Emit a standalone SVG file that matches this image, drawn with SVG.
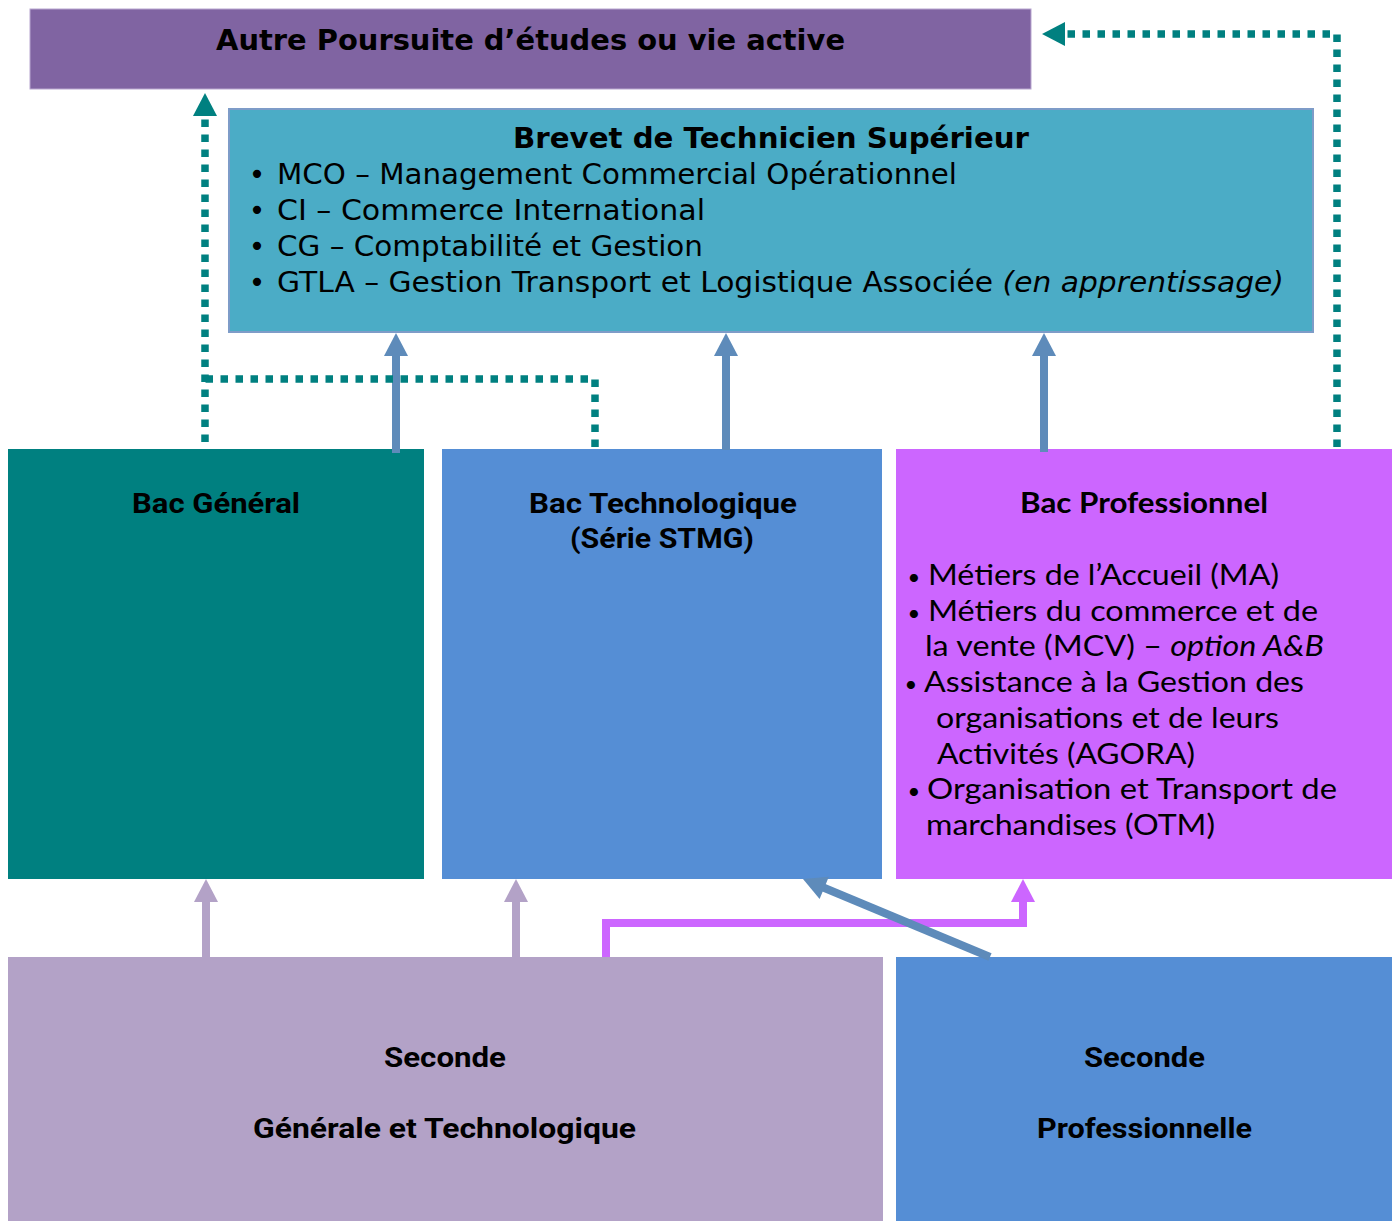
<svg xmlns="http://www.w3.org/2000/svg" width="1395" height="1221" viewBox="0 0 1395 1221">
<style>
.vb{font-family:"DejaVu Sans",Verdana,sans-serif;font-weight:bold;font-size:28px;fill:#000}
.v{font-family:"DejaVu Sans",Verdana,sans-serif;font-size:28px;fill:#000}
.c{font-family:Roboto,"Liberation Sans",sans-serif;font-weight:bold;font-size:28px;fill:#000}
.g{font-family:Lato,"Open Sans",sans-serif;font-size:28px;fill:#000}
.gb{font-family:Lato,"Open Sans",sans-serif;font-weight:bold;font-size:28px;fill:#000}
.gbul{font-family:Lato,"Open Sans",sans-serif;font-size:22px;fill:#000}
.it{font-style:italic}
.solid{fill:none;stroke-width:8}
.dot{fill:none;stroke:#008080;stroke-width:7.5;stroke-dasharray:7.5 7.5}
</style>
<defs>
<marker id="aBlue" markerUnits="userSpaceOnUse" markerWidth="24" markerHeight="24" viewBox="0 -12 24 24" refX="1" refY="0" orient="auto" overflow="visible"><path d="M0,-12 L23,0 L0,12 z" fill="#5E8BBA"/></marker>
<marker id="aTeal" markerUnits="userSpaceOnUse" markerWidth="24" markerHeight="24" viewBox="0 -12 24 24" refX="1" refY="0" orient="auto" overflow="visible"><path d="M0,-12 L23,0 L0,12 z" fill="#008080"/></marker>
<marker id="aLilac" markerUnits="userSpaceOnUse" markerWidth="24" markerHeight="24" viewBox="0 -12 24 24" refX="1" refY="0" orient="auto" overflow="visible"><path d="M0,-12 L23,0 L0,12 z" fill="#B3A2C7"/></marker>
<marker id="aPink" markerUnits="userSpaceOnUse" markerWidth="24" markerHeight="24" viewBox="0 -12 24 24" refX="1" refY="0" orient="auto" overflow="visible"><path d="M0,-12 L23,0 L0,12 z" fill="#CC66FF"/></marker>
</defs>
<rect width="1395" height="1221" fill="#fff"/>

<g id="autre">
<rect x="30" y="9" width="1001" height="80" fill="#8064A2" stroke="#B8A6CF" stroke-width="1"/>
<text class="vb" x="216" y="50" textLength="629" lengthAdjust="spacingAndGlyphs">Autre Poursuite d’études ou vie active</text>
</g>

<g id="bts">
<rect x="229" y="109" width="1084" height="223" fill="#4BACC6" stroke="#7E9CC8" stroke-width="2"/>
<text class="vb" x="513" y="148" textLength="516" lengthAdjust="spacingAndGlyphs">Brevet de Technicien Supérieur</text>
<text class="v" x="257" y="184" text-anchor="middle">•</text>
<text class="v" x="277" y="184" textLength="680" lengthAdjust="spacingAndGlyphs">MCO – Management Commercial Opérationnel</text>
<text class="v" x="257" y="220" text-anchor="middle">•</text>
<text class="v" x="277" y="220" textLength="428" lengthAdjust="spacingAndGlyphs">CI – Commerce International</text>
<text class="v" x="257" y="256" text-anchor="middle">•</text>
<text class="v" x="277" y="256" textLength="426" lengthAdjust="spacingAndGlyphs">CG – Comptabilité et Gestion</text>
<text class="v" x="257" y="292" text-anchor="middle">•</text>
<text class="v" x="277" y="292" textLength="1007" lengthAdjust="spacingAndGlyphs">GTLA – Gestion Transport et Logistique Associée <tspan class="it">(en apprentissage)</tspan></text>
</g>

<g id="bac-general">
<rect x="8" y="449" width="416" height="430" fill="#008080"/>
<text class="c" x="132" y="513" textLength="168" lengthAdjust="spacingAndGlyphs">Bac Général</text>
</g>

<g id="bac-techno">
<rect x="442" y="449" width="440" height="430" fill="#558ED5"/>
<text class="c" x="529" y="513" textLength="268" lengthAdjust="spacingAndGlyphs">Bac Technologique</text>
<text class="c" x="570" y="548" textLength="184" lengthAdjust="spacingAndGlyphs">(Série STMG)</text>
</g>

<g id="bac-pro">
<rect x="896" y="449" width="496" height="430" fill="#CC66FF"/>
<text class="gb" x="1020" y="513" textLength="248" lengthAdjust="spacingAndGlyphs">Bac Professionnel</text>
<text class="gbul" x="914" y="585" text-anchor="middle">•</text>
<text class="g" x="928" y="585" textLength="351" lengthAdjust="spacingAndGlyphs">Métiers de l’Accueil (MA)</text>
<text class="gbul" x="914" y="621" text-anchor="middle">•</text>
<text class="g" x="928" y="621" textLength="390" lengthAdjust="spacingAndGlyphs">Métiers du commerce et de</text>
<text class="g" x="925" y="656" textLength="399" lengthAdjust="spacingAndGlyphs">la vente (MCV) – <tspan class="it">option A&amp;B</tspan></text>
<text class="gbul" x="911" y="692" text-anchor="middle">•</text>
<text class="g" x="924" y="692" textLength="380" lengthAdjust="spacingAndGlyphs">Assistance à la Gestion des</text>
<text class="g" x="936" y="728" textLength="343" lengthAdjust="spacingAndGlyphs">organisations et de leurs</text>
<text class="g" x="937" y="764" textLength="258" lengthAdjust="spacingAndGlyphs">Activités (AGORA)</text>
<text class="gbul" x="914" y="799" text-anchor="middle">•</text>
<text class="g" x="927" y="799" textLength="410" lengthAdjust="spacingAndGlyphs">Organisation et Transport de</text>
<text class="g" x="926" y="835" textLength="289" lengthAdjust="spacingAndGlyphs">marchandises (OTM)</text>
</g>

<g id="seconde-gt">
<rect x="8" y="957" width="875" height="264" fill="#B3A2C7"/>
<text class="c" x="384" y="1067" textLength="122" lengthAdjust="spacingAndGlyphs">Seconde</text>
<text class="c" x="253" y="1138" textLength="383" lengthAdjust="spacingAndGlyphs">Générale et Technologique</text>
</g>

<g id="seconde-pro">
<rect x="896" y="957" width="496" height="264" fill="#558ED5"/>
<text class="c" x="1084" y="1067" textLength="121" lengthAdjust="spacingAndGlyphs">Seconde</text>
<text class="c" x="1037" y="1138" textLength="215" lengthAdjust="spacingAndGlyphs">Professionnelle</text>
</g>

<g id="connectors">
<path class="solid" stroke="#5E8BBA" d="M396,453 V355" marker-end="url(#aBlue)"/>
<path class="solid" stroke="#5E8BBA" d="M726,450 V355" marker-end="url(#aBlue)"/>
<path class="solid" stroke="#5E8BBA" d="M1044,452 V355" marker-end="url(#aBlue)"/>
<path class="dot" d="M205,442 V115" marker-end="url(#aTeal)"/>
<path class="dot" d="M595,447 V379 H205"/>
<path class="dot" d="M1337,447 V34 H1064" marker-end="url(#aTeal)"/>
<path class="solid" stroke="#B3A2C7" d="M206,957 V901" marker-end="url(#aLilac)"/>
<path class="solid" stroke="#B3A2C7" d="M516,957 V901" marker-end="url(#aLilac)"/>
<path class="solid" stroke="#CC66FF" d="M606,957 V923 H1023 V901" marker-end="url(#aPink)"/>
<path class="solid" stroke="#5E8BBA" d="M990,957 L823.3,887.5" marker-end="url(#aBlue)"/>
</g>
</svg>
